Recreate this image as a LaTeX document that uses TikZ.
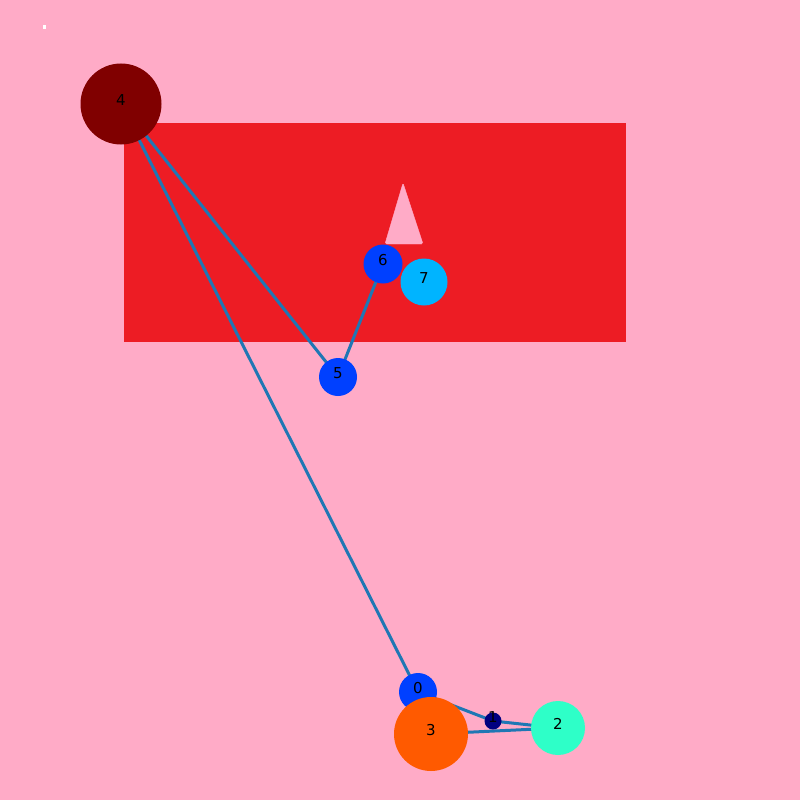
\documentclass[tikz,border=0pt]{standalone}
\usepackage{fontspec}
\setmainfont{DejaVu Sans}
\usepackage{tikz}
\usetikzlibrary{positioning,arrows.meta,calc}
\definecolor{bgpink}{HTML}{FFABC7}
\definecolor{zone}{HTML}{ED1C24}
\definecolor{edgeblue}{HTML}{1F77B4}
\definecolor{cmaroon}{HTML}{800000}
\definecolor{cblue}{HTML}{0040FF}
\definecolor{csky}{HTML}{00B4FF}
\definecolor{cnavy}{HTML}{000080}
\definecolor{caqua}{HTML}{2EFFC8}
\definecolor{corange}{HTML}{FF5A00}
\pgfdeclarelayer{bg}
\pgfdeclarelayer{edges}
\pgfsetlayers{bg,edges,main}
\tikzset{
  vtx/.style={circle, inner sep=0pt, draw=none, text height=8pt, text depth=5pt,
              font=\fontsize{15}{16}\selectfont},
  link/.style={draw=edgeblue, line width=3pt}
}

\begin{document}
\begin{tikzpicture}[x=1pt, y=-1pt]
\useasboundingbox (0,0) rectangle (800,800);
\node[vtx, fill=cblue, minimum size=38] (n0) at (418,692) {0};
\node[vtx, fill=cnavy, minimum size=17] (n1) at (493,721) {1};
\node[vtx, fill=caqua, minimum size=54] (n2) at (558,728) {2};
\node[vtx, fill=corange, minimum size=74] (n3) at (431,734) {3};
\node[vtx, fill=cmaroon, minimum size=81] (n4) at (121,104) {4};
\node[vtx, fill=cblue, minimum size=38] (n5) at (338,377) {5};
\node[vtx, fill=cblue, minimum size=39] (n6) at (383,264) {6};
\node[vtx, fill=csky, minimum size=47] (n7) at (424,282) {7};
\begin{pgfonlayer}{bg}
\fill[bgpink] (0,0) rectangle (800,800);
\fill[zone] (124,123) rectangle (626,342);
\filldraw[bgpink, rounded corners=1.5pt, line join=round] (403,183) -- (423,244) -- (385,244) -- cycle;
\fill[white] (43,25) rectangle (46,29);
\end{pgfonlayer}
\begin{pgfonlayer}{edges}
\draw[link] (n4.center)--(n5.center);\draw[link] (n4.center)--(n0.center);
\draw[link] (n5.center)--(n6.center);\draw[link] (n0.center)--(n1.center);
\draw[link] (n1.center)--(n2.center);\draw[link] (n3.center)--(n2.center);
\end{pgfonlayer}
\end{tikzpicture}
\end{document}
